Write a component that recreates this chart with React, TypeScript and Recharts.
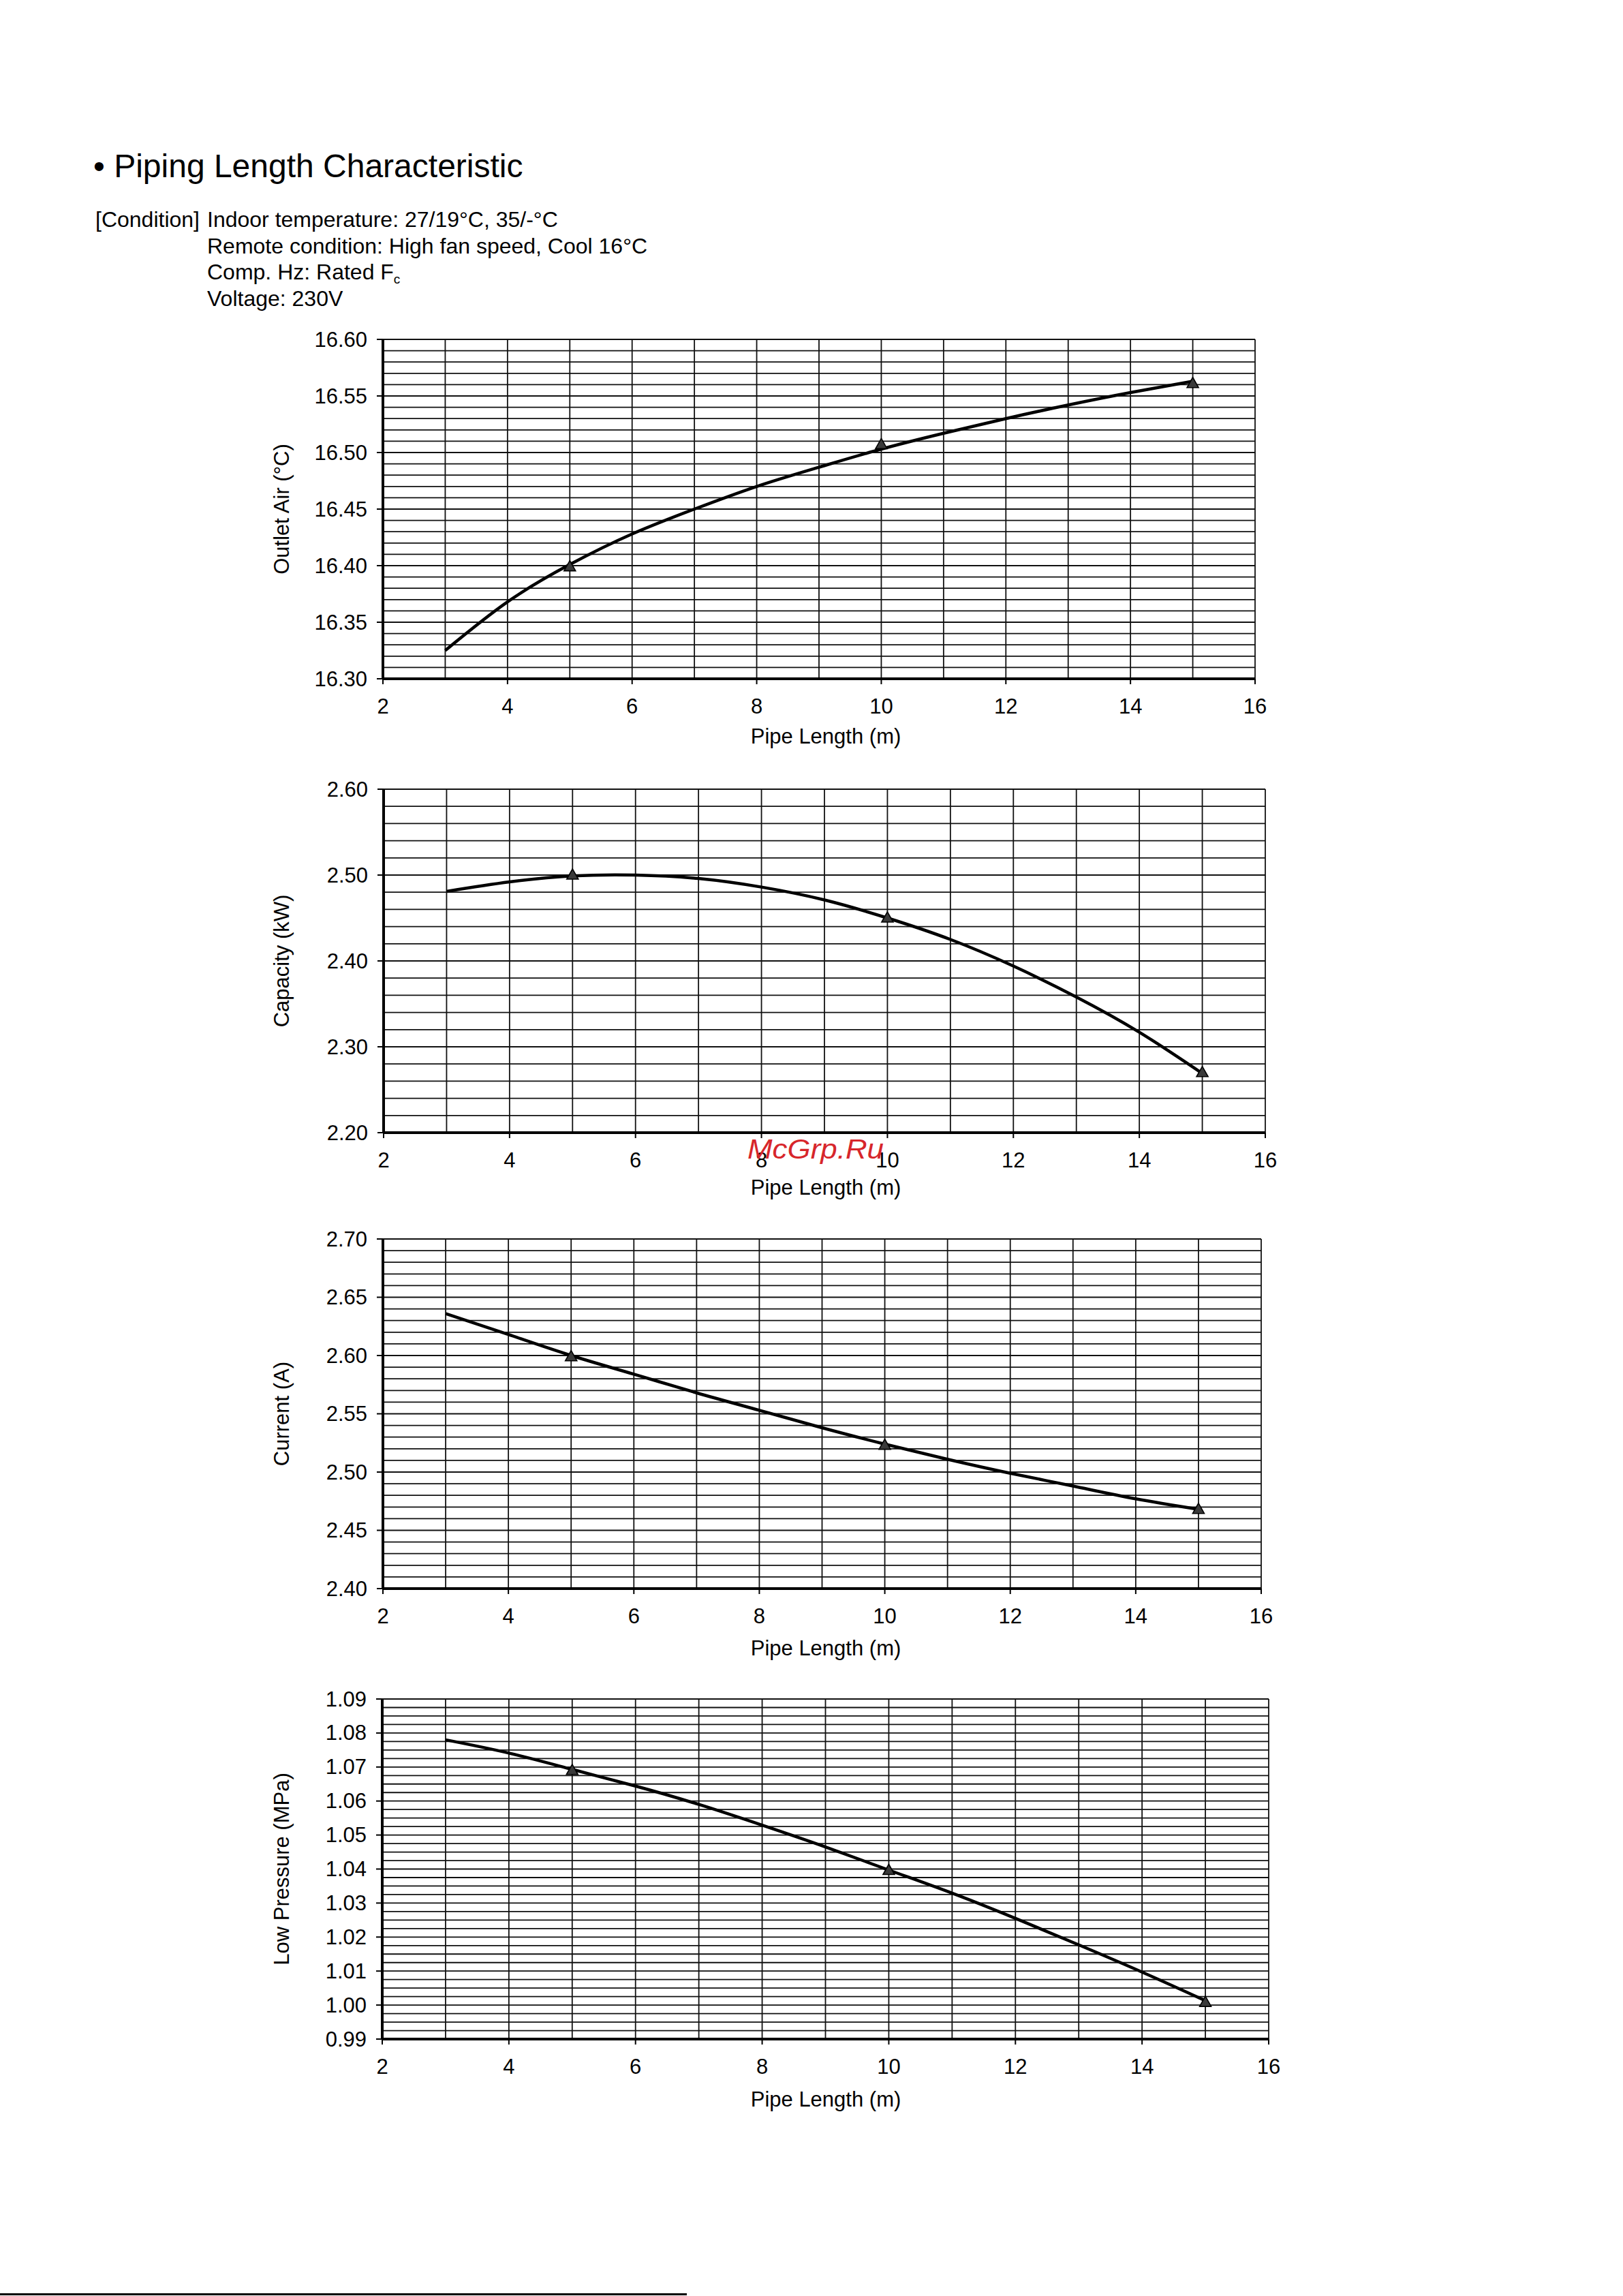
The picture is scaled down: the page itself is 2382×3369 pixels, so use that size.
import { CartesianGrid, ComposedChart, Line, XAxis, YAxis } from 'recharts'

const FONT = '"Liberation Sans", Arial, Helvetica, sans-serif'
const PAGE_W = 2382
const PAGE_H = 3369

// pipe length (m) along the fitted curve, and where the measured points sit
const pipeLengths = [3, 4, 5, 6, 7, 8, 9, 10, 11, 12, 13, 14, 15]
const measuredLengths = [5, 10, 15]
const xTicks = [2, 3, 4, 5, 6, 7, 8, 9, 10, 11, 12, 13, 14, 15, 16]

const outletCurve = [16.325, 16.368, 16.401, 16.428, 16.45, 16.47, 16.487, 16.503, 16.517, 16.53, 16.542, 16.553, 16.563]
const outletPoints = [16.399, 16.507, 16.561]
const outletMajor = [16.3, 16.35, 16.4, 16.45, 16.5, 16.55, 16.6]

const capacityCurve = [2.481, 2.492, 2.499, 2.5, 2.496, 2.486, 2.471, 2.45, 2.425, 2.394, 2.358, 2.317, 2.269]
const capacityPoints = [2.5, 2.45, 2.27]
const capacityMajor = [2.2, 2.3, 2.4, 2.5, 2.6]

const currentCurve = [2.636, 2.618, 2.6, 2.584, 2.568, 2.553, 2.538, 2.524, 2.511, 2.499, 2.488, 2.477, 2.468]
const currentPoints = [2.599, 2.523, 2.468]
const currentMajor = [2.4, 2.45, 2.5, 2.55, 2.6, 2.65, 2.7]

const pressureCurve = [1.078, 1.0741, 1.0693, 1.0644, 1.059, 1.0529, 1.0465, 1.0397, 1.0329, 1.0255, 1.0177, 1.0097, 1.0013]
const pressurePoints = [1.069, 1.0396, 1.0008]
const pressureMajor = [0.99, 1.0, 1.01, 1.02, 1.03, 1.04, 1.05, 1.06, 1.07, 1.08, 1.09]

const conditionLines = [
  'Indoor temperature: 27/19°C, 35/-°C',
  'Remote condition: High fan speed, Cool 16°C',
  'Comp. Hz: Rated F',
  'Voltage: 230V',
]

const panels = [
  { label: 'Outlet Air (°C)', curve: outletCurve, points: outletPoints, major: outletMajor, minor: 0.01, left: 562, right: 1842, top: 498, bottom: 996, xTitleY: 1080 },
  { label: 'Capacity (kW)', curve: capacityCurve, points: capacityPoints, major: capacityMajor, minor: 0.02, left: 563, right: 1857, top: 1158, bottom: 1662, xTitleY: 1742 },
  { label: 'Current (A)', curve: currentCurve, points: currentPoints, major: currentMajor, minor: 0.01, left: 562, right: 1851, top: 1818, bottom: 2331, xTitleY: 2418 },
  { label: 'Low Pressure (MPa)', curve: pressureCurve, points: pressurePoints, major: pressureMajor, minor: 0.0025, left: 561, right: 1862, top: 2493, bottom: 2992, xTitleY: 3080 },
]

type Panel = (typeof panels)[number]

// minor grid positions between the first and last major tick
function gridValues(min: number, max: number, step: number) {
  const n = Math.round((max - min) / step)
  const out: number[] = []
  for (let i = 0; i <= n; i++) out.push(Number((min + i * step).toFixed(5)))
  return out
}

function isMajor(v: number, majors: number[]) {
  return majors.some((m) => Math.abs(m - v) < 1e-6)
}

function Triangle(props: any) {
  const { cx, cy, payload } = props
  if (payload?.point == null || cx == null || cy == null) return <g key={props.key} />
  return (
    <polygon
      key={props.key}
      points={`${cx},${cy - 9} ${cx - 8.5},${cy + 6} ${cx + 8.5},${cy + 6}`}
      fill="#3a3a3a"
      stroke="#000"
      strokeWidth={1.6}
    />
  )
}

function PanelChart({ panel }: { panel: Panel }) {
  const T = panel.top - 40
  const H = panel.bottom - T + 70
  const bottomLocal = panel.bottom - T
  const yTicks = gridValues(panel.major[0], panel.major[panel.major.length - 1], panel.minor)
  const rows = pipeLengths.map((x, i) => {
    const k = measuredLengths.indexOf(x)
    return { x, curve: panel.curve[i], point: k >= 0 ? panel.points[k] : null }
  })

  const xTick = (p: any) => {
    const v = p.payload.value
    if (v % 2 !== 0) return <g />
    return (
      <g>
        <line x1={p.x} x2={p.x} y1={bottomLocal} y2={bottomLocal + 8} stroke="#000" strokeWidth={2} />
        <text x={p.x} y={bottomLocal + 40} textAnchor="middle" dominantBaseline="central" fontSize={31} fontFamily={FONT} fill="#000">
          {v}
        </text>
      </g>
    )
  }

  const yTick = (p: any) => {
    const v = p.payload.value
    if (!isMajor(v, panel.major)) return <g />
    return (
      <g>
        <line x1={panel.left - 9} x2={panel.left} y1={p.y} y2={p.y} stroke="#000" strokeWidth={2} />
        <text x={panel.left - 23} y={p.y} textAnchor="end" dominantBaseline="central" fontSize={31} fontFamily={FONT} fill="#000">
          {v.toFixed(2)}
        </text>
      </g>
    )
  }

  return (
    <div style={{ position: 'absolute', left: 0, top: T }}>
      <ComposedChart
        width={PAGE_W}
        height={H}
        data={rows}
        margin={{ top: panel.top - T, right: PAGE_W - panel.right, bottom: 0, left: 0 }}
      >
        <CartesianGrid stroke="#111" strokeWidth={1.8} />
        <XAxis
          type="number"
          dataKey="x"
          domain={[2, 16]}
          ticks={xTicks}
          interval={0}
          height={70}
          allowDataOverflow
          axisLine={{ stroke: '#000', strokeWidth: 4 }}
          tickLine={false}
          tick={xTick}
        />
        <YAxis
          type="number"
          domain={[panel.major[0], panel.major[panel.major.length - 1]]}
          ticks={yTicks}
          interval={0}
          width={panel.left}
          allowDataOverflow
          axisLine={{ stroke: '#000', strokeWidth: 4 }}
          tickLine={false}
          tick={yTick}
        />
        <Line dataKey="curve" type="natural" stroke="#000" strokeWidth={4.5} dot={false} activeDot={false} isAnimationActive={false} />
        <Line dataKey="point" stroke="none" dot={Triangle} activeDot={false} isAnimationActive={false} />
      </ComposedChart>
    </div>
  )
}

export default function App() {
  return (
    <div style={{ position: 'absolute', left: 0, top: 0, width: PAGE_W, height: PAGE_H, overflow: 'hidden', background: '#fff' }}>
      {panels.map((p) => (
        <PanelChart key={p.label} panel={p} />
      ))}
      <svg width={PAGE_W} height={PAGE_H} style={{ position: 'absolute', left: 0, top: 0, pointerEvents: 'none' }} fontFamily={FONT}>
        <text x={137} y={260} fontSize={48} fill="#000">
          • Piping Length Characteristic
        </text>
        <text x={140} y={333} fontSize={32} fill="#000">
          [Condition]
        </text>
        {conditionLines.map((line, i) => (
          <text key={line} x={304} y={333 + i * 38.5} fontSize={32} fill="#000">
            {line}
            {i === 2 && (
              <tspan fontSize={19} dy={6}>
                c
              </tspan>
            )}
          </text>
        ))}
        {panels.map((p) => {
          const cy = (p.top + p.bottom) / 2
          return (
            <g key={p.label}>
              <text
                x={413}
                y={cy}
                transform={`rotate(-90 413 ${cy})`}
                textAnchor="middle"
                dominantBaseline="central"
                fontSize={31}
                fill="#000"
              >
                {p.label}
              </text>
              <text x={1212} y={p.xTitleY} textAnchor="middle" dominantBaseline="central" fontSize={31} fill="#000">
                Pipe Length (m)
              </text>
            </g>
          )
        })}
        <text x={1097} y={1700} fontSize={40} fontStyle="italic" fill="#d7262b" textLength={200} lengthAdjust="spacingAndGlyphs">
          McGrp.Ru
        </text>
        <rect x={0} y={3365} width={1008} height={3} fill="#000" />
      </svg>
    </div>
  )
}
